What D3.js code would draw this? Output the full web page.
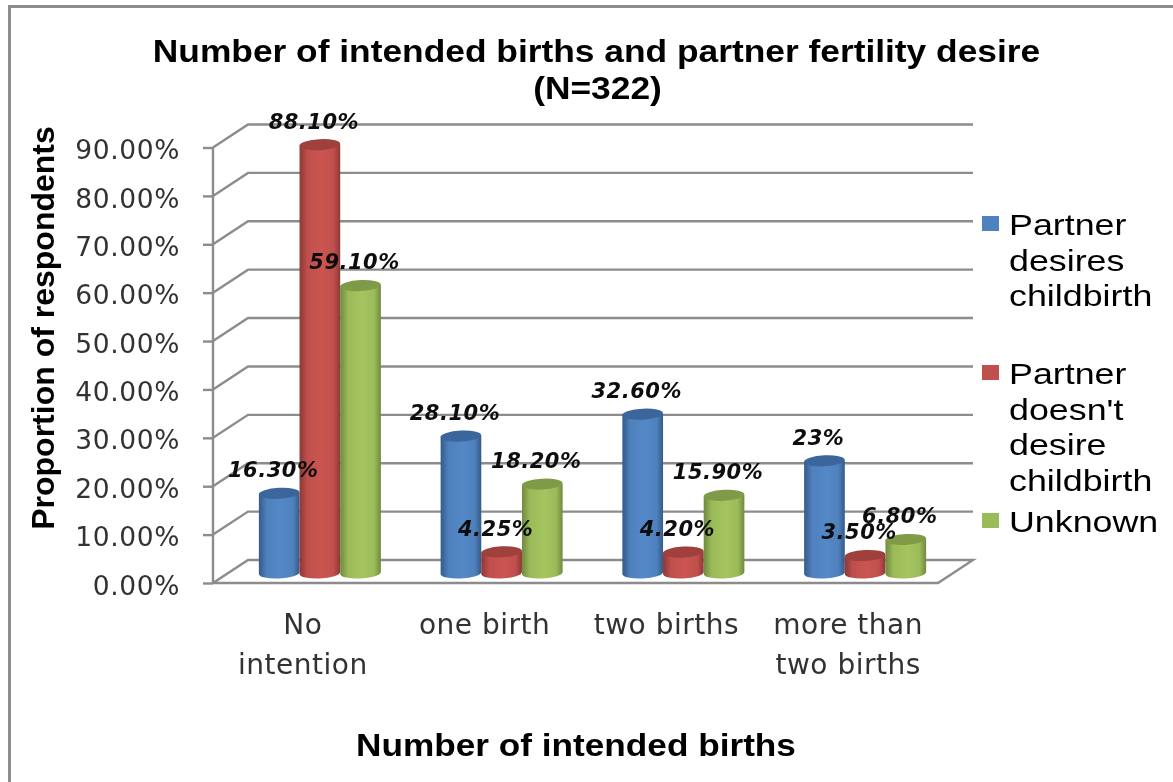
<!DOCTYPE html>
<html>
<head>
<meta charset="utf-8">
<script src="https://cdn.jsdelivr.net/npm/d3@7"></script>
<style>
html, body { margin: 0; padding: 0; background: #fff; }
svg { display: block; }
</style>
</head>
<body>
<svg id="chart" width="1173" height="782"></svg>
<script>
var categories = [["No", "intention"], ["one birth"], ["two births"], ["more than", "two births"]];
var seriesNames = ["Partner desires childbirth", "Partner doesn't desire childbirth", "Unknown"];
var desires = [16.3, 28.1, 32.6, 23];
var doesntDesire = [88.1, 4.25, 4.2, 3.5];
var unknown = [59.1, 18.2, 15.9, 6.8];
var desiresLabels = ["16.30%", "28.10%", "32.60%", "23%"];
var doesntLabels = ["88.10%", "4.25%", "4.20%", "3.50%"];
var unknownLabels = ["59.10%", "18.20%", "15.90%", "6.80%"];
var yTicks = [0, 10, 20, 30, 40, 50, 60, 70, 80, 90];
var colors = ["#4f81bd", "#c0504d", "#9bbb59"];
var darks = ["#345a8a", "#8c3836", "#71893f"];
var legendLines = [["Partner", "desires", "childbirth"], ["Partner", "doesn't", "desire", "childbirth"], ["Unknown"]];

var svg = d3.select("#chart");
var sans = "'Liberation Sans', Arial, sans-serif";
var dejavu = "'DejaVu Sans', Verdana, sans-serif";

var defs = svg.append("defs");
defs.append("filter").attr("id", "soft").append("feGaussianBlur").attr("stdDeviation", 0.6);
colors.forEach(function (c, i) {
  var g = defs.append("linearGradient").attr("id", "cyl" + i);
  g.append("stop").attr("offset", "0%").attr("stop-color", darks[i]);
  g.append("stop").attr("offset", "20%").attr("stop-color", c);
  g.append("stop").attr("offset", "55%").attr("stop-color", d3.rgb(c).brighter(0.15));
  g.append("stop").attr("offset", "84%").attr("stop-color", c);
  g.append("stop").attr("offset", "100%").attr("stop-color", darks[i]);
});

var root = svg.append("g").attr("filter", "url(#soft)");

// frame, only left and top show in the picture
root.append("path")
  .attr("d", "M9.5,782V6.5H1173")
  .attr("fill", "none").attr("stroke", "#8c8c8c").attr("stroke-width", 3);

// scales, front of the box and the back wall
var y = d3.scaleLinear().domain([0, 90]).range([583, 147.5]);
var depthX = 35, depthY = -23;
var x0 = d3.scaleBand().domain(d3.range(categories.length)).range([229, 956]);
var x1 = d3.scaleBand().domain(d3.range(3)).range([0, 122]);
var barBase = 573, barRy = 5.5;
var barY = d3.scaleLinear().domain([0, 90]).range([barBase, barBase - 437]);

var gridColor = "#8c8c8c";
var walls = root.append("g").attr("fill", "none").attr("stroke", gridColor).attr("stroke-width", 2.4);

walls.selectAll("path.grid")
  .data(yTicks)
  .enter().append("path")
  .attr("class", "grid")
  .attr("d", function (d) {
    var line = d3.line();
    if (d === 0) {
      return line([[213, y(0)], [938, y(0)], [938 + depthX, y(0) + depthY], [213 + depthX, y(0) + depthY], [213, y(0)]]);
    }
    return line([[213, y(d)], [213 + depthX, y(d) + depthY], [973, y(d) + depthY]]);
  });

var yAxis = d3.axisLeft(y)
  .tickValues(yTicks)
  .tickSize(10)
  .tickPadding(23)
  .tickFormat(function (d) { return d3.format(".2f")(d) + "%"; });

var axisG = root.append("g").attr("transform", "translate(213,0)").call(yAxis);
axisG.selectAll("path, line").attr("stroke", gridColor).attr("stroke-width", 2.4);
axisG.select(".domain").attr("d", "M0," + y(90) + "V" + y(0));
axisG.selectAll("text")
  .attr("font-family", dejavu).attr("font-size", 26.5).attr("letter-spacing", 0.6)
  .attr("dy", "0.42em").attr("fill", "#333");

// cylinders
var values = [desires, doesntDesire, unknown];
var labels = [desiresLabels, doesntLabels, unknownLabels];
var bars = [];
values.forEach(function (vals, s) {
  vals.forEach(function (v, c) { bars.push({ s: s, c: c, v: v }); });
});
function barLeft(d) { return x0(d.c) + x0.bandwidth() / 2 - 61 + x1(d.s); }

var bar = root.selectAll("g.bar").data(bars).enter().append("g").attr("class", "bar")
  .attr("transform", function (d) { return "translate(" + barLeft(d) + ",0)"; });

bar.append("path")
  .attr("fill", function (d) { return "url(#cyl" + d.s + ")"; })
  .attr("d", function (d) {
    var w = x1.bandwidth();
    return "M0," + barY(d.v) + "V" + (barBase + 1) +
      "A" + (w / 2) + "," + barRy + " -3 0 0 " + w + "," + (barBase - 1) +
      "V" + (barY(d.v) - 1) + "Z";
  });
bar.append("ellipse")
  .attr("cx", x1.bandwidth() / 2)
  .attr("cy", function (d) { return barY(d.v) - 0.5; })
  .attr("rx", x1.bandwidth() / 2)
  .attr("ry", barRy)
  .attr("fill", function (d) { return d3.color(darks[d.s]).brighter(0.35); })
  .attr("transform", function (d) { return "rotate(-3," + (x1.bandwidth() / 2) + "," + barY(d.v) + ")"; });

// data labels
root.selectAll("text.val").data(bars).enter().append("text")
  .attr("class", "val")
  .attr("x", function (d) { return barLeft(d) + x1.bandwidth() / 2 - 6; })
  .attr("y", function (d) { return barY(d.v) - 16.6; })
  .attr("text-anchor", "middle")
  .attr("font-family", dejavu).attr("font-size", 21).attr("font-style", "italic").attr("font-weight", "bold")
  .attr("letter-spacing", 0.5)
  .attr("fill", "#111")
  .text(function (d) { return labels[d.s][d.c]; });

// category labels
var catG = root.selectAll("text.cat").data(categories).enter().append("text")
  .attr("class", "cat")
  .attr("text-anchor", "middle")
  .attr("font-family", dejavu).attr("font-size", 28).attr("letter-spacing", 0.5).attr("fill", "#333");
catG.selectAll("tspan").data(function (d, i) { return d.map(function (t) { return { t: t, i: i }; }); })
  .enter().append("tspan")
  .attr("x", function (d) { return x0(d.i) + x0.bandwidth() / 2 - 17; })
  .attr("y", function (d, j) { return 634 + j * 39.5; })
  .text(function (d) { return d.t; });

// the source image is stretched sideways, so the bold titles are too
function wideText(cx, by, sx, size, txt) {
  root.append("text")
    .attr("transform", "translate(" + cx + "," + by + ") scale(" + sx + ",1)")
    .attr("text-anchor", "middle")
    .attr("font-family", sans).attr("font-size", size).attr("font-weight", "bold").attr("fill", "#000")
    .text(txt);
}
wideText(596.5, 62, 1.14, 31, "Number of intended births and partner fertility desire");
wideText(597.5, 98.5, 1.14, 31, "(N=322)");
wideText(576, 756, 1.1, 32, "Number of intended births");
root.append("text").attr("transform", "translate(53.5,328) rotate(-90)").attr("text-anchor", "middle")
  .attr("font-family", sans).attr("font-size", 32).attr("font-weight", "bold").attr("fill", "#000")
  .text("Proportion of respondents");

// legend
var legendY = [235, 384, 532];
var leg = root.selectAll("g.leg").data(seriesNames).enter().append("g").attr("class", "leg");
leg.append("rect")
  .attr("x", 982)
  .attr("y", function (d, i) { return legendY[i] - 19; })
  .attr("width", 17).attr("height", 15)
  .attr("fill", function (d, i) { return colors[i]; });
leg.append("text")
  .attr("transform", "translate(1009,0) scale(1.235,1)")
  .attr("font-family", sans).attr("font-size", 29).attr("fill", "#000")
  .selectAll("tspan").data(function (d, i) { return legendLines[i].map(function (t) { return { t: t, i: i }; }); })
  .enter().append("tspan")
  .attr("x", 0)
  .attr("y", function (d, j) { return legendY[d.i] + j * 35.7; })
  .text(function (d) { return d.t; });
</script>
</body>
</html>
